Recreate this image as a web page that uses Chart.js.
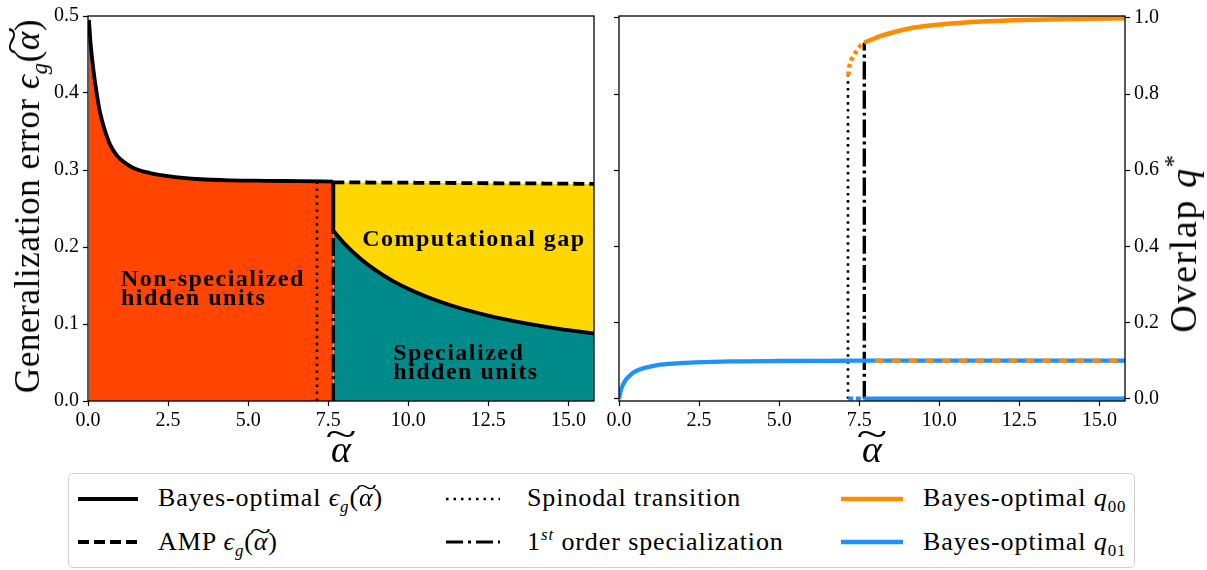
<!DOCTYPE html>
<html lang="en">
<head>
<meta charset="UTF-8">
<title>Generalization error and overlaps</title>
<script src="https://cdn.jsdelivr.net/npm/chart.js"></script>
<style>
  body { margin: 0; background: #fff; color: #000; font-family: 'Liberation Serif', serif; }
  #wrap { position: relative; width: 1207px; height: 570px; overflow: hidden; }
  #leftChart { position: absolute; left: 0; top: 0; }
  #rightChart { position: absolute; left: 600px; top: 0; }
  .ylabel { position: absolute; font-size: 35px; white-space: nowrap; letter-spacing: 0.6px;
            transform: translate(-50%, -50%) rotate(-90deg); }
  .xlabel { position: absolute; font-size: 38px; transform: translateX(-50%); }
  .legend { position: absolute; left: 68px; top: 473px; width: 1067px; height: 95px;
            border: 1px solid #d0d0d0; border-radius: 5px; box-sizing: border-box; }
  .item { position: absolute; font-size: 26px; line-height: 32px; white-space: nowrap; letter-spacing: 0.9px; }
  .swatch { position: absolute; }
  sub, sup { font-size: 65%; line-height: 0; }
  /* alpha with a wide tilde on top */
  .at { position: relative; display: inline-block; font-style: italic; }
  .at::after { content: '~'; position: absolute; left: 52%; top: -0.42em; font-style: normal;
               transform: translateX(-50%) scaleX(1.5); }
</style>
</head>
<body>
<div id="wrap">
  <canvas id="leftChart" width="600" height="470"></canvas>
  <canvas id="rightChart" width="607" height="470"></canvas>

  <div class="ylabel" style="left:28px; top:206px;">Generalization error <i>ϵ</i><sub><i>g</i></sub>(<span class="at">α</span>)</div>
  <div class="ylabel" style="left:1183px; top:243px; font-size:38px; letter-spacing:1.6px;">Overlap <i>q</i><sup>*</sup></div>
  <div class="xlabel" style="left:341px; top:427px;"><span class="at">α</span></div>
  <div class="xlabel" style="left:872px; top:427px;"><span class="at">α</span></div>

  <div class="legend">
    <svg class="swatch" style="left:8px; top:20px;" width="62" height="10"><line x1="1" y1="5" x2="61" y2="5" stroke="#000" stroke-width="3.8"/></svg>
    <div class="item" style="left:89px; top:8px;">Bayes-optimal <i>ϵ</i><sub><i>g</i></sub>(<span class="at">α</span>)</div>
    <svg class="swatch" style="left:8px; top:63px;" width="62" height="10"><line x1="1" y1="5" x2="61" y2="5" stroke="#000" stroke-width="3.8" stroke-dasharray="11 5"/></svg>
    <div class="item" style="left:89px; top:52px;">AMP <i>ϵ</i><sub><i>g</i></sub>(<span class="at">α</span>)</div>

    <svg class="swatch" style="left:376px; top:20px;" width="56" height="10"><line x1="1" y1="5" x2="55" y2="5" stroke="#000" stroke-width="2.5" stroke-dasharray="2.5 5"/></svg>
    <div class="item" style="left:458px; top:8px;">Spinodal transition</div>
    <svg class="swatch" style="left:376px; top:63px;" width="56" height="10"><line x1="1" y1="5" x2="55" y2="5" stroke="#000" stroke-width="3.2" stroke-dasharray="17 5 3 5"/></svg>
    <div class="item" style="left:458px; top:52px;">1<sup><i>st</i></sup> order specialization</div>

    <svg class="swatch" style="left:771px; top:20px;" width="64" height="10"><line x1="1" y1="5" x2="63" y2="5" stroke="#FF8C00" stroke-width="4.5"/></svg>
    <div class="item" style="left:854px; top:8px;">Bayes-optimal <i>q</i><sub>00</sub></div>
    <svg class="swatch" style="left:771px; top:63px;" width="64" height="10"><line x1="1" y1="5" x2="63" y2="5" stroke="#1E90FF" stroke-width="4.5"/></svg>
    <div class="item" style="left:854px; top:52px;">Bayes-optimal <i>q</i><sub>01</sub></div>
  </div>
</div>

<script>
// x range and tick labels shared by both panels
const alphaMax = 15.8;
const alphaTicks = [0, 2.5, 5, 7.5, 10, 12.5, 15];
const epsTicks = [0, 0.1, 0.2, 0.3, 0.4, 0.5];
const overlapTicks = [0, 0.2, 0.4, 0.6, 0.8, 1.0];

// transition points
const alphaSpinodal = 7.15;
const alphaFirstOrder = 7.66;

// generalization error, non-specialized branch
const alphaNonSpec = [0.03, 0.08, 0.17, 0.27, 0.375, 0.5, 0.69, 0.9, 1.1, 1.4, 1.94, 2.5, 3.5, 4.5, 5.6, 6.6, 7.66];
const epsBayesNonSpec = [0.495, 0.465, 0.43, 0.40, 0.375, 0.355, 0.333, 0.319, 0.311, 0.303, 0.296, 0.292, 0.288, 0.2865, 0.286, 0.2855, 0.285];

// generalization error, specialized branch and AMP
const alphaSpec = [7.66, 8.0, 8.5, 9.0, 9.5, 10.0, 10.5, 11.0, 11.5, 12.0, 12.5, 13.0, 13.5, 14.0, 14.5, 15.0, 15.8];
const epsBayesSpec = [0.2211, 0.2047, 0.1850, 0.1693, 0.1564, 0.1457, 0.1366, 0.1288, 0.1221, 0.1162, 0.1110, 0.1064, 0.1022, 0.0985, 0.0951, 0.0921, 0.0877];
const epsAmp = [0.2840, 0.2840, 0.2838, 0.2837, 0.2836, 0.2835, 0.2833, 0.2832, 0.2831, 0.2830, 0.2828, 0.2827, 0.2826, 0.2825, 0.2823, 0.2822, 0.2820];

// overlaps, non-specialized branch (q00 = q01 there)
const alphaQ = [0, 0.05, 0.1, 0.2, 0.3, 0.45, 0.6, 0.8, 1.2, 1.8, 2.4, 3.5, 5.0, 7.0, 8.0, 9.0, 12.0, 15.8];
const qNonSpec = [0, 0.02, 0.032, 0.048, 0.058, 0.069, 0.0755, 0.081, 0.0885, 0.093, 0.0955, 0.098, 0.099, 0.0997, 0.1, 0.1, 0.1, 0.1];
const alphaQ00Dashed = 8.0;

// overlaps, specialized branch (metastable part, then stable part)
const alphaMeta = [7.16, 7.2, 7.29, 7.42, 7.55, 7.66];
const q00Meta = [0.849, 0.875, 0.896, 0.913, 0.928, 0.935];
const q01Meta = [0, 0, 0, 0, 0, 0];
const alphaQSpec = [7.66, 8.16, 8.6, 9.1, 9.7, 10.5, 11.5, 13.0, 14.5, 15.8];
const q00Spec = [0.935, 0.952, 0.963, 0.973, 0.980, 0.986, 0.991, 0.995, 0.998, 0.999];
const q01Spec = [0, 0, 0, 0, 0, 0, 0, 0, 0, 0];

const RED = '#FF4500', TEAL = '#008B8B', GOLD = '#FFD700';
const ORANGE = '#FF8C00', BLUE = '#1E90FF';
const DOTTED = [2.5, 4.5];
const DASHDOT = [18, 4, 3, 4];
const FONT = "'Liberation Serif', serif";

const pts = (xs, ys) => xs.map((x, i) => ({ x, y: ys[i] }));

function line(label, data, color, width, dash, extra) {
  return Object.assign({
    label, data,
    borderColor: color,
    borderWidth: width,
    borderDash: dash || [],
    pointRadius: 0,
    fill: false,
    cubicInterpolationMode: 'monotone'
  }, extra || {});
}

// box around the plot area, drawn above the curves like matplotlib spines
const framePlugin = {
  id: 'frame',
  afterDatasetsDraw(chart) {
    const { ctx, chartArea: a } = chart;
    ctx.save();
    ctx.strokeStyle = '#000';
    ctx.lineWidth = 1.3;
    ctx.strokeRect(a.left, a.top, a.right - a.left, a.bottom - a.top);
    ctx.restore();
  }
};

// bold region names placed in data coordinates
const regionNames = [
  { lines: ['Non-specialized', 'hidden units'], x: 1.03, y: 0.149 },
  { lines: ['Computational gap'], x: 8.56, y: 0.201 },
  { lines: ['Specialized', 'hidden units'], x: 9.53, y: 0.053 }
];
const regionPlugin = {
  id: 'regions',
  afterDatasetsDraw(chart) {
    const { ctx, scales } = chart;
    ctx.save();
    ctx.font = "bold 24px " + FONT;
    ctx.letterSpacing = '1.5px';
    ctx.fillStyle = '#000';
    ctx.textBaseline = 'alphabetic';
    regionNames.forEach(r => {
      const px = scales.x.getPixelForValue(r.x);
      const py = scales.y.getPixelForValue(r.y);
      r.lines.forEach((t, i) => ctx.fillText(t, px, py + i * 19));
    });
    ctx.restore();
  }
};

function xAxis() {
  return {
    type: 'linear', min: 0, max: alphaMax,
    afterBuildTicks: s => { s.ticks = alphaTicks.map(v => ({ value: v })); },
    afterFit: s => { s.height = 69; },
    ticks: { autoSkip: false, maxRotation: 0, padding: 3, color: '#000',
             font: { family: FONT, size: 20 }, callback: v => v.toFixed(1) },
    grid: { drawOnChartArea: false, drawTicks: true, tickLength: 5, tickColor: '#000', tickWidth: 1.2 },
    border: { display: false }
  };
}

function yAxis(ticks, min, max, position, width, showLabels) {
  return {
    type: 'linear', position, min, max,
    afterBuildTicks: s => { s.ticks = ticks.map(v => ({ value: v })); },
    afterFit: s => { s.width = width; },
    ticks: { display: showLabels, autoSkip: false, padding: 4, color: '#000',
             font: { family: FONT, size: 20 }, callback: v => v.toFixed(1) },
    grid: { drawOnChartArea: false, drawTicks: true, tickLength: 5, tickColor: '#000', tickWidth: 1.2 },
    border: { display: false }
  };
}

const baseOptions = {
  responsive: false,
  animation: false,
  devicePixelRatio: 1,
  plugins: {
    legend: { display: false },
    tooltip: { enabled: false },
    filler: { drawTime: 'beforeDatasetsDraw' }
  }
};

// left panel: generalization error
new Chart(document.getElementById('leftChart'), {
  type: 'line',
  data: {
    datasets: [
      line('Bayes-optimal, non-specialized', pts(alphaNonSpec, epsBayesNonSpec), '#000', 3.8, null,
           { fill: 'origin', backgroundColor: RED }),
      line('Bayes-optimal, jump', [
        { x: alphaFirstOrder, y: epsBayesNonSpec[epsBayesNonSpec.length - 1] },
        { x: alphaFirstOrder, y: epsBayesSpec[0] }], '#000', 3.8),
      line('Bayes-optimal, specialized', pts(alphaSpec, epsBayesSpec), '#000', 3.8, null,
           { fill: 'origin', backgroundColor: TEAL }),
      line('AMP', pts(alphaSpec, epsAmp), '#000', 3.8, [11, 5],
           { fill: '-1', backgroundColor: GOLD }),
      line('Spinodal', [{ x: alphaSpinodal, y: 0 }, { x: alphaSpinodal, y: epsBayesNonSpec[epsBayesNonSpec.length - 1] }],
           '#000', 2.6, DOTTED),
      line('First order', [{ x: alphaFirstOrder, y: 0 }, { x: alphaFirstOrder, y: epsBayesSpec[0] }],
           '#000', 3.4, DASHDOT)
    ]
  },
  options: Object.assign({}, baseOptions, {
    layout: { padding: { top: 13, right: 6, left: 0, bottom: 0 } },
    scales: {
      x: xAxis(),
      y: yAxis(epsTicks, 0, 0.5, 'left', 88, true)
    }
  }),
  plugins: [framePlugin, regionPlugin]
});

// right panel: overlaps
new Chart(document.getElementById('rightChart'), {
  type: 'line',
  data: {
    datasets: [
      line('q00 non-specialized', pts(alphaQ, qNonSpec).filter(p => p.x >= alphaQ00Dashed), ORANGE, 4.3, [8.5, 8.2]),
      line('q00 specialized', pts(alphaQSpec, q00Spec), ORANGE, 4.5),
      line('q00 metastable', pts(alphaMeta, q00Meta), ORANGE, 4.5, [4, 3.5]),
      line('q01 non-specialized', pts(alphaQ, qNonSpec), BLUE, 4.3),
      line('q01 specialized', pts(alphaQSpec, q01Spec), BLUE, 4.3),
      line('q01 metastable', pts(alphaMeta, q01Meta), BLUE, 4.3, [5, 2.5]),
      line('Spinodal', [{ x: alphaSpinodal, y: 0 }, { x: alphaSpinodal, y: q00Meta[0] }], '#000', 2.6, DOTTED),
      line('First order', [{ x: alphaFirstOrder, y: 0 }, { x: alphaFirstOrder, y: q00Spec[0] }], '#000', 3.4, DASHDOT)
    ]
  },
  options: Object.assign({}, baseOptions, {
    layout: { padding: { top: 13, right: 0, left: 0, bottom: 0 } },
    scales: {
      x: xAxis(),
      y: yAxis(overlapTicks, -0.006, 1.005, 'left', 19, false),
      y2: yAxis(overlapTicks, -0.006, 1.005, 'right', 82, true)
    }
  }),
  plugins: [framePlugin]
});
</script>
</body>
</html>
